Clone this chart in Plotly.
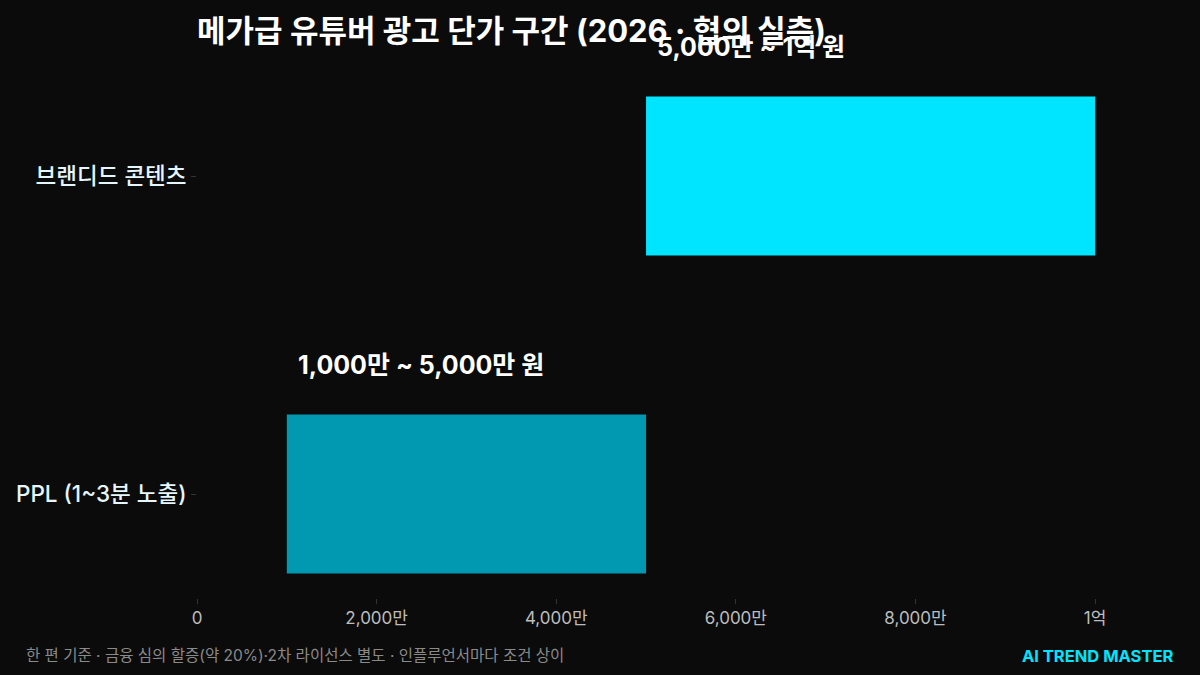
import plotly.graph_objects as go

# 광고 유형별 단가 구간 (단위: 만 원)
categories = ['PPL (1~3분 노출)', '브랜디드 콘텐츠']
range_start = [1000, 5000]
range_end = [5000, 10000]
range_labels = ['1,000만 ~ 5,000만 원', '5,000만 ~ 1억 원']
bar_colors = ['#0099b1', '#00e5ff']

tick_vals = [0, 2000, 4000, 6000, 8000, 10000]
tick_text = ['0', '2,000만', '4,000만', '6,000만', '8,000만', '1억']

title_text = '메가급 유튜버 광고 단가 구간 (2026 · 협의 실측)'
footer_text = '한 편 기준 · 금융 심의 할증(약 20%)·2차 라이선스 별도 · 인플루언서마다 조건 상이'
brand_text = 'AI TREND MASTER'

FONT = 'Inter, Noto Sans CJK KR, sans-serif'
BG = '#0b0b0b'

W, H = 1200, 675
PL, PR, PT, PB = 197, 1140, 40, 598  # plot area in pixels

fig = go.Figure()

fig.add_trace(go.Bar(
    y=categories,
    x=[e - s for s, e in zip(range_start, range_end)],
    base=range_start,
    orientation='h',
    width=0.5,
    marker=dict(color=bar_colors, line=dict(width=0)),
    hoverinfo='skip',
    showlegend=False
))

# 구간 라벨 (막대 위, 시작점 기준 왼쪽 정렬)
for i, (start, label) in enumerate(zip(range_start, range_labels)):
    fig.add_annotation(
        x=start, y=i + 0.405,
        xref='x', yref='y',
        text=f'<b>{label}</b>',
        showarrow=False,
        xanchor='left', yanchor='middle',
        xshift=9,
        font=dict(family=FONT, size=25, color='#ffffff')
    )

# 하단 주석
fig.add_annotation(
    x=(24 - PL) / (PR - PL), y=(PB - 655) / (PB - PT),
    xref='paper', yref='paper',
    text=footer_text, showarrow=False,
    xanchor='left', yanchor='middle',
    font=dict(family=FONT, size=15.5, color='#8a8a8a')
)
fig.add_annotation(
    x=(1175 - PL) / (PR - PL), y=(PB - 656) / (PB - PT),
    xref='paper', yref='paper',
    text=f'<b>{brand_text}</b>', showarrow=False,
    xanchor='right', yanchor='middle',
    font=dict(family=FONT, size=16.5, color='#00e5ff')
)

fig.update_layout(
    width=W,
    height=H,
    paper_bgcolor=BG,
    plot_bgcolor=BG,
    margin=dict(l=PL, r=W - PR, t=PT, b=H - PB),
    title=dict(
        text=f'<b>{title_text}</b>',
        x=PL / W, xref='container', xanchor='left',
        y=1 - 31 / H, yref='container', yanchor='middle',
        font=dict(family=FONT, size=31, color='#ffffff')
    ),
    font=dict(family=FONT),
    xaxis=dict(
        range=[0, 10500],
        tickvals=tick_vals,
        ticktext=tick_text,
        showgrid=False,
        zeroline=False,
        showline=False,
        ticks='outside',
        ticklen=5,
        tickcolor='#333333',
        tickfont=dict(family=FONT, size=17, color='#bdbdbd')
    ),
    yaxis=dict(
        range=[-0.327, 1.428],
        showgrid=False,
        zeroline=False,
        showline=False,
        ticks='outside',
        ticklen=5,
        tickcolor='#333333',
        tickfont=dict(family=FONT, size=22.5, color='#e6f6fa', weight=500)
    )
)

fig.write_html(
    'out.html',
    config={'displayModeBar': False},
    post_script="document.body.style.margin='0';document.body.style.background='#0b0b0b';"
)
